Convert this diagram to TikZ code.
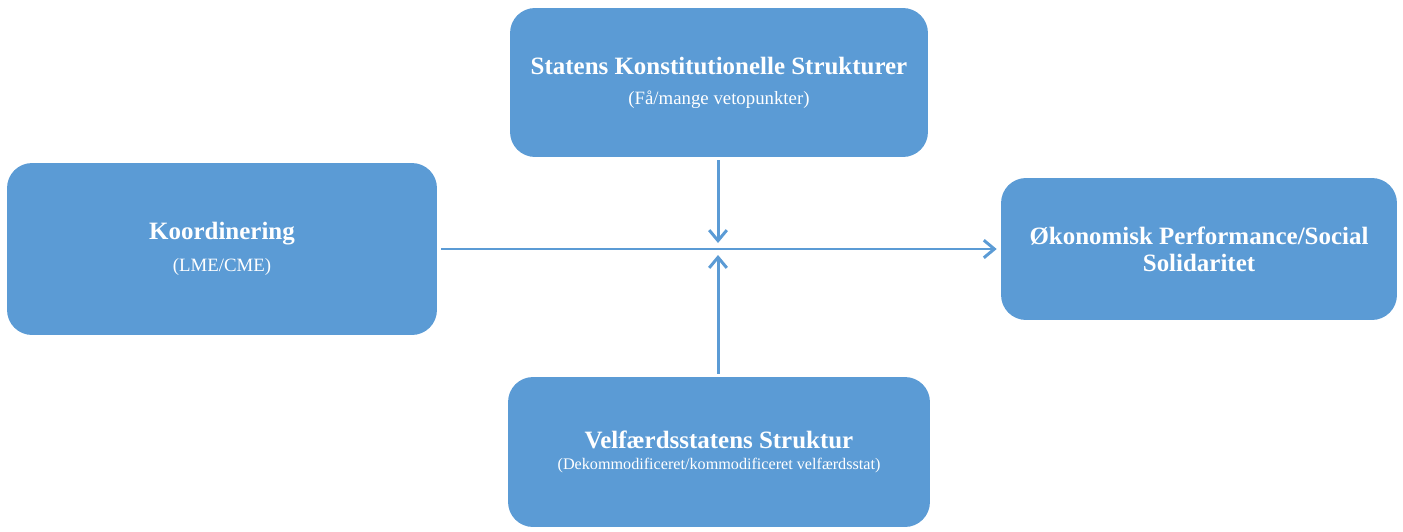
\documentclass[tikz,border=0pt]{standalone}
\usepackage{fontspec}
\setmainfont{Liberation Serif}
\usepackage{xcolor}
\usepackage{tikz}
\usetikzlibrary{arrows.meta}
\usetikzlibrary{positioning}
\definecolor{boksblaa}{HTML}{5B9BD5}
\newcommand{\overskrift}[1]{{\bfseries\fontsize{14.2}{17}\selectfont #1}}
\newcommand{\undertekst}[2][10.7]{{\fontsize{#1}{12}\selectfont #2}}
\tikzset{
  boks/.style={fill=boksblaa, rounded corners=0.5cm, text=white, align=center, inner sep=0pt}, % for kasserne
  pil/.style={draw=boksblaa, line width=1.7pt, -{Straight Barb[length=6pt,width=10pt]}} % for pilene
}

\begin{document}
\begin{tikzpicture}[x=0.02cm, y=-0.02cm]
\useasboundingbox (0,0) rectangle (1403,531);

%Kasser
\node[boks, minimum width=8.36cm, minimum height=2.98cm] (stat) at (719,82.5)
  {\overskrift{Statens Konstitutionelle Strukturer}\\[5pt]\undertekst{(Få/mange vetopunkter)}};
\node[boks, minimum width=8.6cm, minimum height=3.44cm] (koord) at (222,249)
  {\overskrift{Koordinering}\\[6pt]\undertekst{(LME/CME)}};
\node[boks, minimum width=7.92cm, minimum height=2.84cm,
  font={\bfseries\fontsize{14.2}{15.5}\selectfont}] (okon) at (1199,249)
  {Økonomisk Performance/Social\\Solidaritet};
\node[boks, minimum width=8.44cm, minimum height=3.0cm] (velf) at (719,452)
  {\overskrift{Velfærdsstatens Struktur}\\[0pt]\undertekst[9.2]{(Dekommodificeret/kommodificeret velfærdsstat)}};

%Krydspunkt
\coordinate (m) at (718,249);

%Pile
\draw[pil, shorten <=0.08cm, shorten >=0.08cm] (koord.east) -- (okon.west);
\draw[pil, shorten <=0.06cm, shorten >=0.12cm] (stat.south -| m) -- (m);
\draw[pil, shorten <=0.06cm, shorten >=0.12cm] (velf.north -| m) -- (m);

\end{tikzpicture}
\end{document}
